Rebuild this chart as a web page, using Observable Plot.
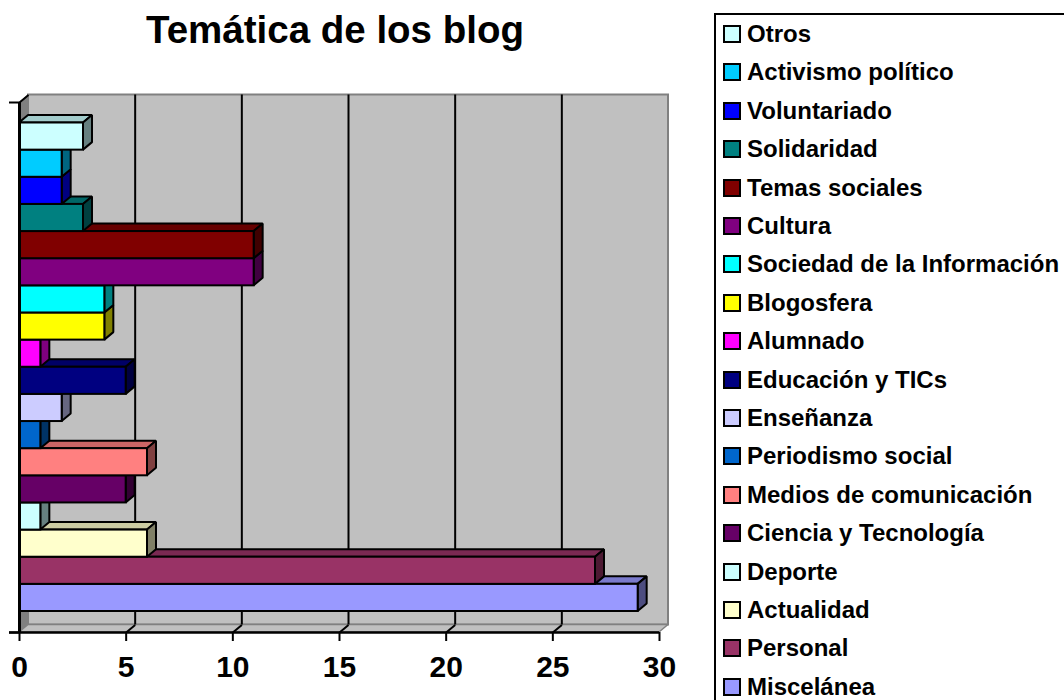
<!DOCTYPE html>
<html>
<head>
<meta charset="utf-8">
<script src="https://cdn.jsdelivr.net/npm/d3@7"></script>
<script src="https://cdn.jsdelivr.net/npm/@observablehq/plot@0.6"></script>
<style>
  html, body { margin: 0; padding: 0; background: #fff; }
  body { width: 1064px; height: 700px; position: relative; overflow: hidden; font-family: "Liberation Sans", Arial, sans-serif; }
  #title { position: absolute; left: 0; top: 8px; width: 670px; text-align: center; font-size: 38.5px; font-weight: bold; color: #000; line-height: 44px; }
  #chart { position: absolute; left: 0; top: 60px; }
  #legend { position: absolute; left: 714px; top: 13px; width: 400px; height: 720px; border: 2px solid #000; box-sizing: border-box; }
  .item { position: absolute; left: 7px; height: 30px; display: flex; align-items: center; white-space: nowrap; font-size: 24px; font-weight: bold; color: #000; }
  .sw { width: 14px; height: 14px; border: 2px solid #000; margin-right: 6px; flex: none; }
</style>
</head>
<body>
<div id="title">Temática de los blog</div>
<div id="chart"></div>
<div id="legend"></div>
<script>
// ---- data (series in Excel order, first = bottom bar) ----
const categories = ["Miscelánea","Personal","Actualidad","Deporte","Ciencia y Tecnología","Medios de comunicación","Periodismo social","Enseñanza","Educación y TICs","Alumnado","Blogosfera","Sociedad de la Información","Cultura","Temas sociales","Solidaridad","Voluntariado","Activismo político","Otros"];
const values = [29, 27, 6, 1, 5, 6, 1, 2, 5, 1, 4, 4, 11, 11, 3, 2, 2, 3];
const colors = ["#9999FF","#993366","#FFFFCC","#CCFFFF","#660066","#FF8080","#0066CC","#CCCCFF","#000080","#FF00FF","#FFFF00","#00FFFF","#800080","#800000","#008080","#0000FF","#00CCFF","#CCFFFF"];
const xTicks = [0, 5, 10, 15, 20, 25, 30];
const xMax = 30;

// ---- layout ----
const W = 700, H = 640;
const mL = 19, mR = W - 659, mT = 42, mB = H - 572;
const n = categories.length;
const slotPx = (572 - 42 - 21 - 20.5) / n;
const yb = -21 / slotPx, yt = n + 20.5 / slotPx;
const xPx = (W - mL - mR) / xMax;
const dX = 9 / xPx, dY = 7.5 / slotPx;

function shade(c, k) {
  const r = d3.rgb(c);
  return d3.rgb(r.r * k, r.g * k, r.b * k).formatHex();
}

const bars = categories.map((c, i) => ({c, v: values[i], i, color: colors[i], top: shade(colors[i], 0.8), side: shade(colors[i], 0.5)}));
const topFaces = bars.flatMap(d => [
  {i: d.i, y: d.i + 1, x1: 0, x2: d.v, fill: d.top},
  {i: d.i, y: d.i + 1 + dY, x1: dX, x2: d.v + dX, fill: d.top}
]);
const sideFaces = bars.flatMap(d => [
  {i: d.i, x: d.v, y1: d.i, y2: d.i + 1, fill: d.side},
  {i: d.i, x: d.v + dX, y1: d.i + dY, y2: d.i + 1 + dY, fill: d.side}
]);

const plot = Plot.plot({
  width: W, height: H,
  marginLeft: mL, marginRight: mR, marginTop: mT, marginBottom: mB,
  style: {fontFamily: "Liberation Sans, Arial, sans-serif", background: "transparent", overflow: "visible"},
  x: {domain: [0, xMax]},
  y: {domain: [yb, yt], axis: null},
  color: {type: "identity"},
  marks: [
    // back wall
    Plot.rect([{}], {x1: dX, x2: xMax + dX, y1: yb + dY, y2: yt + dY, fill: "#C0C0C0", stroke: "#808080", strokeWidth: 2}),
    // left wall
    Plot.areaY([{x: 0, y1: yb, y2: yt}, {x: dX, y1: yb + dY, y2: yt + dY}], {x: "x", y1: "y1", y2: "y2", fill: "#808080"}),
    // floor
    Plot.areaX([{y: yb, x1: 0, x2: xMax}, {y: yb + dY, x1: dX, x2: xMax + dX}], {y: "y", x1: "x1", x2: "x2", fill: "#C0C0C0", stroke: "#808080", strokeWidth: 1.5}),
    // gridlines on back wall
    Plot.ruleX(xTicks.slice(1, -1), {x: d => d + dX, y1: yb + dY, y2: yt + dY, stroke: "#000", strokeWidth: 2}),
    // gridline continuation across floor
    Plot.link(xTicks.slice(1, -1), {x1: d => d, y1: yb, x2: d => d + dX, y2: yb + dY, stroke: "#000", strokeWidth: 2}),
    // left wall top edge
    Plot.link([{}], {x1: 0, y1: yt, x2: dX, y2: yt + dY, stroke: "#000", strokeWidth: 2}),
    // bars: top faces, side faces, front faces
    Plot.areaX(topFaces, {y: "y", x1: "x1", x2: "x2", z: "i", fill: "fill", stroke: "#000", strokeWidth: 2, strokeLinejoin: "miter"}),
    Plot.areaY(sideFaces, {x: "x", y1: "y1", y2: "y2", z: "i", fill: "fill", stroke: "#000", strokeWidth: 2, strokeLinejoin: "miter"}),
    Plot.rect(bars, {x1: 0, x2: "v", y1: "i", y2: d => d.i + 1, fill: "color", stroke: "#000", strokeWidth: 2}),
    // axes lines
    Plot.ruleX([0], {y1: yb, y2: yt, stroke: "#000", strokeWidth: 3}),
    Plot.ruleY([yb, yt], {x1: -10 / xPx, x2: 0, stroke: "#000", strokeWidth: 2}),
    Plot.ruleY([yb], {x1: -10 / xPx, x2: xMax, stroke: "#000", strokeWidth: 2.5}),
    Plot.axisX(xTicks, {tickSize: 9, tickPadding: 14, strokeWidth: 2, fontSize: 30, fontWeight: "bold", fill: "#000", stroke: "#000", label: null})
  ]
});
document.getElementById("chart").appendChild(plot);

// legend (top-to-bottom = Otros ... Miscelánea)
const legend = document.getElementById("legend");
categories.map((c, i) => ({c, color: colors[i]})).reverse().forEach((d, k) => {
  const it = document.createElement("div");
  it.className = "item";
  it.style.top = (34 + k * 38.4 - 13 - 2 - 15) + "px";
  const sw = document.createElement("span");
  sw.className = "sw";
  sw.style.background = d.color;
  const tx = document.createElement("span");
  tx.textContent = d.c;
  it.appendChild(sw); it.appendChild(tx);
  legend.appendChild(it);
});
</script>
</body>
</html>
